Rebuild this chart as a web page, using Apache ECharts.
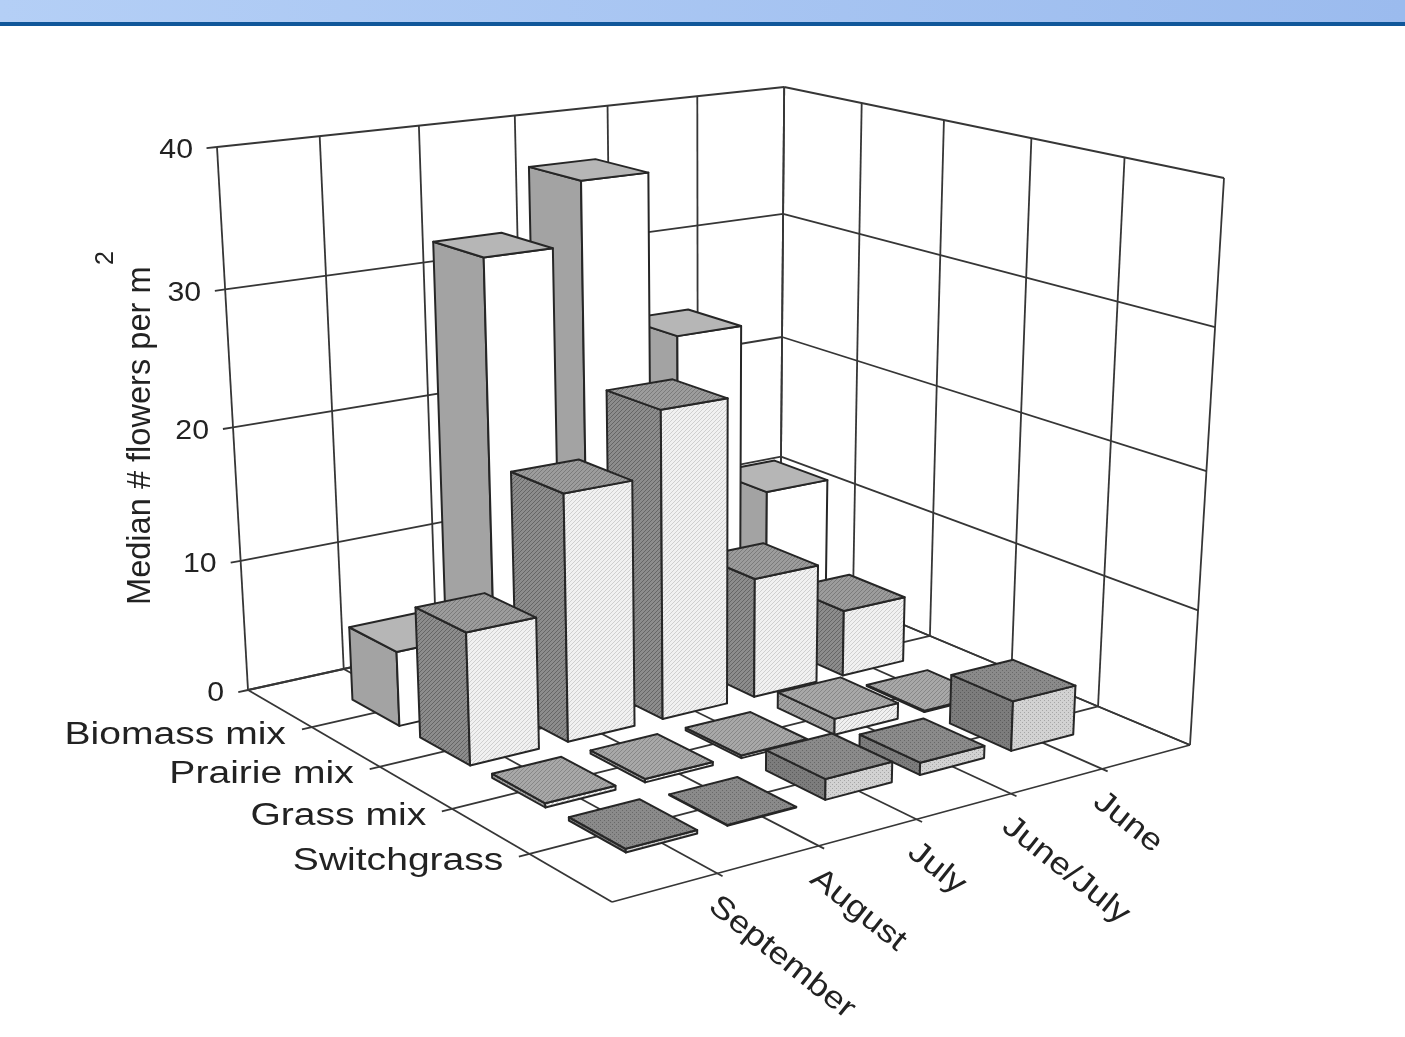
<!DOCTYPE html>
<html>
<head>
<meta charset="utf-8">
<style>html,body{margin:0;padding:0;background:#fff}#chart{width:1405px;height:1037px}</style>
<script src="https://cdn.jsdelivr.net/npm/echarts@6/dist/echarts.min.js"></script>
</head>
<body>
<div id="chart"></div>
<script>
// Categories and readings, in the order the front-right axis lists them
const months = ['September', 'August', 'July', 'June/July', 'June'];
const mixes = ['Biomass mix', 'Prairie mix', 'Grass mix', 'Switchgrass'];
const valueTicks = [0, 10, 20, 30, 40];
const biomassMix = [5.6, 32.9, 37.4, 25.2, 12];
const prairieMix = [9.7, 18.2, 22.9, 9.1, 5.1];
const grassMix = [0.3, 0.25, 0.2, 1.2, 0.1];
const switchgrass = [0.25, 0.05, 1.5, 0.9, 3.7];
const seriesValues = [biomassMix, prairieMix, grassMix, switchgrass];

// Extent of the box in axis units; categories sit on the interior grid lines
const MONTH_SPAN = months.length + 1;
const MIX_SPAN = mixes.length + 1;
const VALUE_MAX = 40;
const BAR_WIDTH = 0.7;

// Screen position of the box corners, used to solve the projection
const floorCorners = [[248, 690], [780, 573], [1190, 745], [612, 902]];
const topCorners = [[217, 147], [785, 87], [1224, 178]];

function solveFloor(q) {
  const [p0, p1, p2, p3] = q;
  const dx1 = p1[0] - p2[0], dx2 = p3[0] - p2[0], sx = p0[0] - p1[0] + p2[0] - p3[0];
  const dy1 = p1[1] - p2[1], dy2 = p3[1] - p2[1], sy = p0[1] - p1[1] + p2[1] - p3[1];
  const det = dx1 * dy2 - dx2 * dy1;
  const g = (sx * dy2 - dx2 * sy) / det;
  const h = (dx1 * sy - sx * dy1) / det;
  return {
    a: p1[0] - p0[0] + g * p1[0], b: p3[0] - p0[0] + h * p3[0], c: p0[0],
    d: p1[1] - p0[1] + g * p1[1], e: p3[1] - p0[1] + h * p3[1], f: p0[1],
    g: g, h: h
  };
}
const floor = solveFloor(floorCorners);

// Vanishing point of the vertical edges, from the two outer edges
function verticalVanish() {
  const s1 = (floorCorners[0][0] - topCorners[0][0]) / (floorCorners[0][1] - topCorners[0][1]);
  const s2 = (floorCorners[2][0] - topCorners[2][0]) / (floorCorners[2][1] - topCorners[2][1]);
  const y = (floorCorners[2][0] - s2 * floorCorners[2][1] - floorCorners[0][0] + s1 * floorCorners[0][1]) / (s1 - s2);
  return [floorCorners[0][0] + s1 * (y - floorCorners[0][1]), y];
}
const vanish = verticalVanish();

function floorHomog(u, v) {
  return [
    floor.a * u + floor.b * v + floor.c,
    floor.d * u + floor.e * v + floor.f,
    floor.g * u + floor.h * v + 1
  ];
}
// Vertical perspective strength, planar over the floor so that all three top corners land exactly
const riseAt = [[0, 0], [1, 0], [1, 1]].map(function (uv, i) {
  const H = floorHomog(uv[0], uv[1]);
  const ty = topCorners[i][1];
  return (ty * H[2] - H[1]) / (vanish[1] - ty);
});
function riseK(u, v) {
  return riseAt[0] + (riseAt[1] - riseAt[0]) * u + (riseAt[2] - riseAt[1]) * v;
}

// Axis units to screen: month position, mix position, value
const uScale = x => echarts.number.linearMap(x, [0, MONTH_SPAN], [0, 1]);
const vScale = y => echarts.number.linearMap(y, [0, MIX_SPAN], [0, 1]);
const tScale = z => echarts.number.linearMap(z, [0, VALUE_MAX], [0, 1]);
function project(x, y, z) {
  const u = uScale(x), v = vScale(y);
  const H = floorHomog(u, v);
  const t = tScale(z) * riseK(u, v);
  const w = H[2] + t;
  return [(H[0] + t * vanish[0]) / w, (H[1] + t * vanish[1]) / w];
}

// Tiled fills for the bar faces
function tile(bg, fg, kind) {
  const c = document.createElement('canvas');
  c.width = c.height = 4;
  const g = c.getContext('2d');
  g.fillStyle = bg;
  g.fillRect(0, 0, 4, 4);
  g.fillStyle = fg;
  if (kind === 'hatch') {
    [[3, 0], [2, 1], [1, 2], [0, 3]].forEach(function (p) { g.fillRect(p[0], p[1], 1, 1); });
  } else if (kind === 'dots') {
    [[0, 0], [2, 2]].forEach(function (p) { g.fillRect(p[0], p[1], 1, 1); });
  }
  return { image: c, repeat: 'repeat' };
}
const faceFills = [
  { left: '#a3a3a3', top: '#b6b6b6', right: '#ffffff' },
  { left: tile('#8c8c8c', '#656565', 'hatch'), top: tile('#9c9c9c', '#7b7b7b', 'hatch'), right: tile('#f1f1f1', '#cfcfcf', 'hatch') },
  { left: tile('#a4a4a4', '#808080', 'hatch'), top: tile('#a8a8a8', '#878787', 'hatch'), right: tile('#f0f0f0', '#c6c6c6', 'hatch') },
  { left: tile('#7c7c7c', '#5c5c5c', 'dots'), top: tile('#8a8a8a', '#686868', 'dots'), right: tile('#d2d2d2', '#a6a6a6', 'dots') }
];

const EDGE = '#262626';
const GRID = '#363636';

function seg(a, b) {
  return {
    type: 'line', silent: true,
    shape: { x1: a[0], y1: a[1], x2: b[0], y2: b[1] },
    style: { stroke: GRID, lineWidth: 1.8, fill: null }
  };
}

// Walls, floor grid and the short tick marks outside the box
function renderFrame() {
  const ch = [];
  valueTicks.forEach(function (z) {
    ch.push(seg(project(0, 0, z), project(MONTH_SPAN, 0, z)));
    ch.push(seg(project(MONTH_SPAN, 0, z), project(MONTH_SPAN, MIX_SPAN, z)));
    ch.push(seg(project(-0.1, 0, z), project(0, 0, z)));
  });
  for (let x = 0; x <= MONTH_SPAN; x++) {
    ch.push(seg(project(x, 0, 0), project(x, 0, VALUE_MAX)));
    ch.push(seg(project(x, 0, 0), project(x, MIX_SPAN + (x > 0 && x < MONTH_SPAN ? 0.06 : 0), 0)));
  }
  for (let y = 0; y <= MIX_SPAN; y++) {
    ch.push(seg(project(MONTH_SPAN, y, 0), project(MONTH_SPAN, y, VALUE_MAX)));
    ch.push(seg(project(y > 0 && y < MIX_SPAN ? -0.1 : 0, y, 0), project(MONTH_SPAN, y, 0)));
  }
  return { type: 'group', children: ch };
}

function face(points, fill) {
  return {
    type: 'polygon', silent: true,
    shape: { points: points },
    style: { fill: fill, stroke: EDGE, lineWidth: 2, lineJoin: 'round' }
  };
}

// One bar: the month-side face, the mix-side face and the cap
function renderBar(params, api) {
  const x = api.value(0), y = api.value(1), z = api.value(2);
  const fills = faceFills[params.seriesIndex - 1];
  const x0 = x - BAR_WIDTH / 2, x1 = x + BAR_WIDTH / 2;
  const y0 = y - BAR_WIDTH / 2, y1 = y + BAR_WIDTH / 2;
  return {
    type: 'group',
    children: [
      face([project(x0, y0, 0), project(x0, y1, 0), project(x0, y1, z), project(x0, y0, z)], fills.left),
      face([project(x0, y1, 0), project(x1, y1, 0), project(x1, y1, z), project(x0, y1, z)], fills.right),
      face([project(x0, y0, z), project(x1, y0, z), project(x1, y1, z), project(x0, y1, z)], fills.top)
    ]
  };
}

function label(text, pos, size, stretch, align, rotation) {
  return {
    type: 'text', silent: true,
    x: pos[0], y: pos[1], rotation: rotation || 0, scaleX: stretch,
    style: {
      text: text, fill: '#222222',
      font: size + 'px "Liberation Sans", Arial, sans-serif',
      align: align, verticalAlign: 'middle'
    }
  };
}

function offset(p, dx, dy) { return [p[0] + dx, p[1] + dy]; }

function renderLabels() {
  const ch = [];
  valueTicks.forEach(function (z) {
    ch.push(label(String(z), offset(project(0, 0, z), -24, 4), 27, 1.12, 'right'));
  });
  mixes.forEach(function (m, i) {
    ch.push(label(m, offset(project(0, i + 1, 0), -26, 8), 31, 1.26, 'right'));
  });
  months.forEach(function (m, i) {
    ch.push(label(m, offset(project(i + 1, MIX_SPAN, 0), -5, 29), 31, 1.17, 'left', -38.5 * Math.PI / 180));
  });
  ch.push(label('Median # flowers per m', [141, 605], 32.6, 1, 'left', Math.PI / 2));
  ch.push(label('2', [106, 265], 25, 1, 'left', Math.PI / 2));
  return { type: 'group', children: ch };
}

// Farthest bars first, so that nearer ones paint over them
const barSeries = mixes.map(function (name, mixIdx) {
  const rows = [];
  for (let m = months.length - 1; m >= 0; m--) {
    rows.push([m + 1, mixIdx + 1, seriesValues[mixIdx][m]]);
  }
  return {
    type: 'custom', name: name, coordinateSystem: 'none',
    renderItem: renderBar, data: rows, animation: false, silent: true,
    encode: { value: 2 }
  };
});

const chart = echarts.init(document.getElementById('chart'), null, { renderer: 'canvas' });
chart.setOption({
  animation: false,
  backgroundColor: '#ffffff',
  graphic: [
    {
      type: 'rect', silent: true, z: 10,
      shape: { x: 0, y: 0, width: 1405, height: 23 },
      style: {
        fill: new echarts.graphic.LinearGradient(0, 0, 1, 0, [
          { offset: 0, color: '#b4cff6' }, { offset: 1, color: '#9bbbee' }
        ])
      }
    },
    { type: 'rect', silent: true, z: 10, shape: { x: 0, y: 22, width: 1405, height: 4 }, style: { fill: '#10579a' } }
  ],
  series: [
    { type: 'custom', name: 'frame', coordinateSystem: 'none', renderItem: renderFrame, data: [[0]], silent: true }
  ].concat(barSeries, [
    { type: 'custom', name: 'labels', coordinateSystem: 'none', renderItem: renderLabels, data: [[0]], silent: true }
  ])
});
</script>
</body>
</html>
